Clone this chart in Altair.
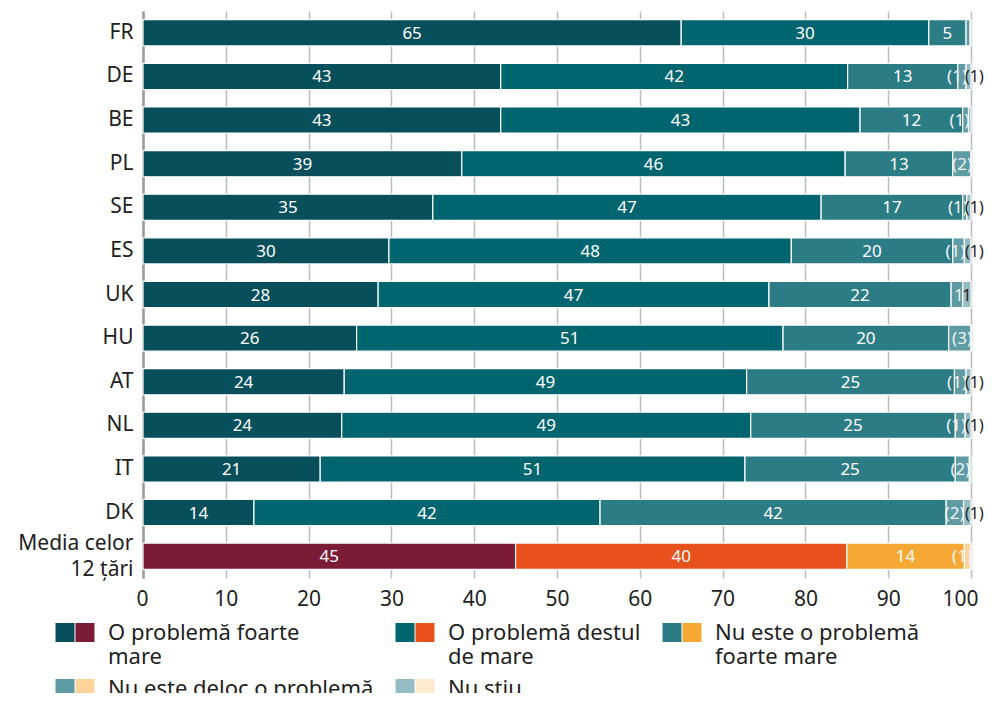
import altair as alt
import pandas as pd

countries = ["FR", "DE", "BE", "PL", "SE", "ES", "UK", "HU", "AT", "NL", "IT", "DK",
             "Media celor 12 țări"]
categories = ["O problemă foarte mare", "O problemă destul de mare",
              "Nu este o problemă foarte mare", "Nu este deloc o problemă", "Nu stiu"]
legend_lines = {
    "O problemă foarte mare": ["O problemă foarte", "mare"],
    "O problemă destul de mare": ["O problemă destul", "de mare"],
    "Nu este o problemă foarte mare": ["Nu este o problemă", "foarte mare"],
}

v_foarte = [65.0, 43.2, 43.2, 38.5, 35.0, 29.7, 28.4, 25.8, 24.3, 24.0, 21.4, 13.4, 45.0]
v_destul = [29.9, 41.9, 43.4, 46.3, 46.9, 48.6, 47.2, 51.5, 48.6, 49.4, 51.3, 41.8, 40.0]
v_nufoarte = [4.5, 13.3, 12.4, 13.0, 17.1, 19.5, 22.0, 20.0, 25.1, 24.7, 25.4, 41.8, 14.2]
v_deloc = [0.5, 1.0, 0.7, 2.2, 0.5, 1.4, 1.4, 2.7, 1.4, 1.2, 1.7, 2.1, 0.8]
v_nustiu = [0.1, 0.6, 0.3, 0.0, 0.5, 0.8, 1.0, 0.0, 0.6, 0.7, 0.2, 0.9, 0.0]

l_foarte = ["65", "43", "43", "39", "35", "30", "28", "26", "24", "24", "21", "14", "45"]
l_destul = ["30", "42", "43", "46", "47", "48", "47", "51", "49", "49", "51", "42", "40"]
l_nufoarte = ["5", "13", "12", "13", "17", "20", "22", "20", "25", "25", "25", "42", "14"]
l_deloc = ["", "(1)", "(1)", "(2)", "(1)", "(1)", "1", "(3)", "(1)", "(1)", "(2)", "(2)", "(1)"]
l_nustiu = ["", "(1)", "", "", "(1)", "(1)", "1", "", "(1)", "(1)", "", "(1)", ""]

x_ticks = [0, 10, 20, 30, 40, 50, 60, 70, 80, 90, 100]

teal_colors = ["#074f5b", "#00656f", "#2c7c85", "#5f9ba3", "#96bcc3"]
warm_colors = ["#7a1c36", "#e8511b", "#f5a934", "#fdd39a", "#fdeacf"]

series = [v_foarte, v_destul, v_nufoarte, v_deloc, v_nustiu]
label_series = [l_foarte, l_destul, l_nufoarte, l_deloc, l_nustiu]

rows = []
for i, c in enumerate(countries):
    start = 0.0
    for k, cat in enumerate(categories):
        val = series[k][i]
        end = start + val
        lab = label_series[k][i]
        if k == 4 and lab.startswith("("):
            place = "out"
        elif k == 4:
            place = "dark"
        elif k == 3:
            place = "right"
        else:
            place = "in"
        rows.append(dict(country=c, cat=cat, value=val, start=start, end=end,
                         mid=(start + end) / 2, label=lab, place=place,
                         group="media" if i == len(countries) - 1 else "tari"))
        start = end
df = pd.DataFrame(rows)

FONT = "Noto Sans"

legend_expr = " : ".join(
    [f"datum.label == '{k}' ? ['{v[0]}', '{v[1]}']" for k, v in legend_lines.items()]
) + " : datum.label"

yaxis = alt.Axis(title=None, domain=True, domainColor="#9b9b9b", domainWidth=2.5,
                 ticks=False, tickSize=0, labelPadding=10, labelFont=FONT,
                 labelFontSize=21, labelColor="#222222", labelLineHeight=26,
                 labelOffset={"condition": {"test": f"datum.value == '{countries[-1]}'",
                                            "value": -12}, "value": 0},
                 labelExpr="split(replace(datum.label, 'celor ', 'celor|'), '|')")
xaxis = alt.Axis(title=None, values=x_ticks, grid=True, gridColor="#bdbdbd",
                 gridWidth=1.5, domain=False, ticks=False, labelPadding=10,
                 labelFont=FONT, labelFontSize=21, labelColor="#222222",
                 labelFlush=True, labelFlushOffset=7)
yenc = alt.Y("country:N", sort=countries,
             scale=alt.Scale(paddingInner=0.4, paddingOuter=0.2), axis=yaxis)
xscale = alt.Scale(domain=[0, 100], nice=False)


def make_legend(x, opacity):
    return alt.Legend(title=None, orient="none", legendX=x, legendY=601,
                      direction="horizontal", columns=3,
                      symbolType="M-1,0H1V2H-1Z", symbolSize=361,
                      symbolStrokeWidth=0, symbolOpacity=1,
                      labelFont=FONT, labelFontSize=22, labelColor="#222222",
                      labelOpacity=opacity, labelOffset=12, labelLimit=500,
                      labelBaseline="top", labelExpr=legend_expr,
                      columnPadding=40, rowPadding=-6, padding=0)


base = alt.Chart(df)

bars_t = base.transform_filter("datum.group == 'tari'").mark_bar(
    stroke="white", strokeWidth=1.2).encode(
    y=yenc,
    x=alt.X("start:Q", scale=xscale, axis=xaxis),
    x2="end:Q",
    color=alt.Color("cat:N", scale=alt.Scale(domain=categories, range=teal_colors),
                    legend=make_legend(-89, 0)),
)
bars_m = base.transform_filter("datum.group == 'media'").mark_bar(
    stroke="white", strokeWidth=1.2).encode(
    y=yenc,
    x=alt.X("start:Q", scale=xscale, axis=xaxis),
    x2="end:Q",
    color=alt.Color("cat:N", scale=alt.Scale(domain=categories, range=warm_colors),
                    legend=make_legend(-69, 1)),
)

txt_in = base.transform_filter("datum.place == 'in' && datum.label != ''").mark_text(
    font=FONT, fontSize=17, color="white", baseline="middle", align="center", dy=1
).encode(y=yenc, x=alt.X("mid:Q", scale=xscale, axis=xaxis), text="label:N")

txt_right = base.transform_filter("datum.place == 'right' && datum.label != ''").mark_text(
    font=FONT, fontSize=17, color="#eef5f6", baseline="middle", align="right", dx=1, dy=1
).encode(y=yenc, x=alt.X("end:Q", scale=xscale, axis=xaxis), text="label:N")

txt_dark = base.transform_filter("datum.place == 'dark'").mark_text(
    font=FONT, fontSize=17, color="#222222", baseline="middle", align="center", dy=1
).encode(y=yenc, x=alt.X("mid:Q", scale=xscale, axis=xaxis), text="label:N")

txt_out = base.transform_filter("datum.place == 'out'").mark_text(
    font=FONT, fontSize=16, color="#222222", baseline="middle", align="left", dx=-6, dy=1
).encode(y=yenc, x=alt.X("end:Q", scale=xscale, axis=xaxis), text="label:N")

chart = alt.layer(bars_t, bars_m, txt_in, txt_right, txt_dark, txt_out).resolve_scale(
    color="independent"
).properties(
    width=828, height=567,
    autosize=alt.AutoSizeParams(type="none"),
    padding={"left": 135, "top": 3, "right": 13, "bottom": 115},
).configure_view(stroke=None)

chart.save("out.html", embed_options={"renderer": "svg", "actions": False})
